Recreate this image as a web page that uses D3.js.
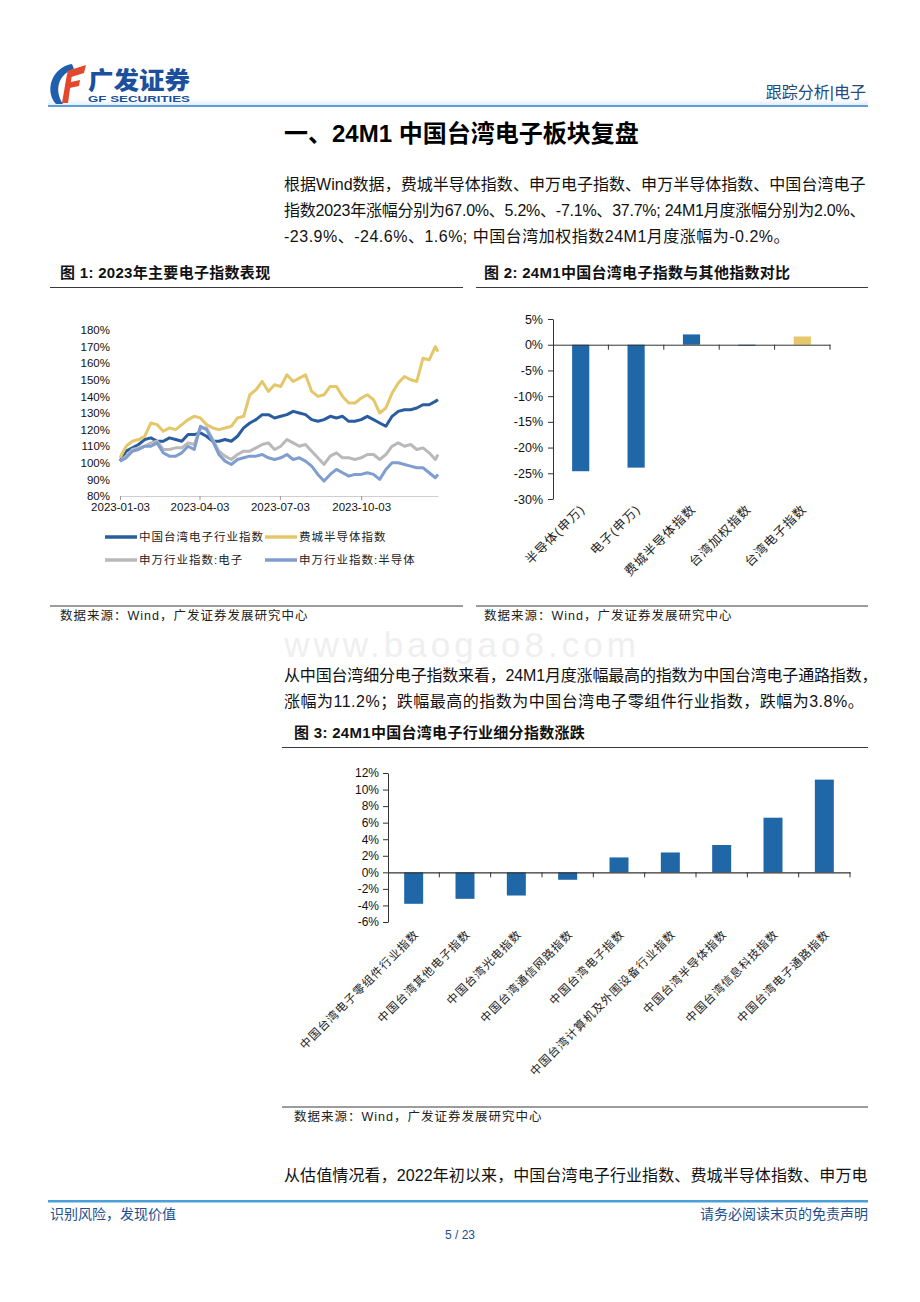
<!DOCTYPE html>
<html><head><meta charset="utf-8">
<script src="https://cdn.jsdelivr.net/npm/d3@7"></script>
<style>body{margin:0;background:#fff}svg{display:block}</style>
</head><body><svg id="c" width="920" height="1302"></svg>
<script>
// ---------- DATA ----------
const lineDates = ["2023-01-03","2023-01-10","2023-01-17","2023-01-24","2023-01-31","2023-02-07","2023-02-14","2023-02-21","2023-02-28","2023-03-07","2023-03-14","2023-03-21","2023-03-28","2023-04-04","2023-04-11","2023-04-18","2023-04-25","2023-05-02","2023-05-09","2023-05-16","2023-05-23","2023-05-30","2023-06-06","2023-06-13","2023-06-20","2023-06-27","2023-07-04","2023-07-11","2023-07-18","2023-07-25","2023-08-01","2023-08-08","2023-08-15","2023-08-22","2023-08-29","2023-09-05","2023-09-12","2023-09-19","2023-09-26","2023-10-03","2023-10-10","2023-10-17","2023-10-24","2023-10-31","2023-11-07","2023-11-14","2023-11-21","2023-11-28","2023-12-05","2023-12-12","2023-12-19","2023-12-26","2023-12-29"];
const twElecIdx = [101,107,109,111,114,115,113,113,115,114,113,117,117,118,116,113,113,114,113,116,121,124,126,129,129,127,128,129,131,130,129,126,125,126,128,127,128,125,125,126,128,126,124,122,128,131,132,132,133,135,135,137,138];
const soxIdx    = [103,110,113,114,116,124,123,119,121,120,123,126,128,127,123,121,120,121,122,127,128,141,144,149,143,147,146,153,149,151,153,143,140,141,146,146,140,136,136,139,141,138,130,133,142,148,152,150,149,163,162,170,167];
const swElecIdx = [101,104,108,109,110,112,113,108,108,109,109,112,111,121,121,114,107,104,102,105,107,107,109,111,112,108,110,114,112,110,111,107,103,99,104,106,103,103,102,103,105,105,102,105,110,112,110,111,108,109,106,102,105];
const swSemiIdx = [101,103,107,108,110,110,112,106,104,104,106,110,108,122,120,113,105,101,99,102,103,104,104,105,103,102,103,105,102,103,101,98,93,89,93,96,94,92,93,93,94,93,90,96,100,100,99,98,97,97,94,91,93];
const lineNames = ["中国台湾电子行业指数","费城半导体指数","申万行业指数:电子","申万行业指数:半导体"];
const lineColors = ["#2a5d9f","#e5c76b","#b9b9b9","#7f9dcf"];
const yTicks1 = [80,90,100,110,120,130,140,150,160,170,180];
const xTicks1 = ["2023-01-03","2023-04-03","2023-07-03","2023-10-03"];

const cmpCats = ["半导体(申万)","电子(申万)","费城半导体指数","台湾加权指数","台湾电子指数"];
const cmpVals = [-24.6,-23.9,2.0,-0.2,1.6];
const cmpColors = ["#1f67a6","#1f67a6","#1f67a6","#1f67a6","#e6c76a"];
const cmpTicks = [-30,-25,-20,-15,-10,-5,0,5];

const subCats = ["中国台湾电子零组件行业指数","中国台湾其他电子指数","中国台湾光电指数","中国台湾通信网路指数","中国台湾电子指数","中国台湾计算机及外围设备行业指数","中国台湾半导体指数","中国台湾信息科技指数","中国台湾电子通路指数"];
const subVals = [-3.8,-3.2,-2.8,-0.9,1.8,2.4,3.3,6.6,11.2];
const subTicks = [-6,-4,-2,0,2,4,6,8,10,12];

// ---------- SETUP ----------
const F = "'Liberation Sans','Noto Sans CJK SC',sans-serif";
const svg = d3.select("#c");
svg.append("rect").attr("width",920).attr("height",1302).attr("fill","#fff");

// watermark
svg.append("text").attr("x",462).attr("y",657).attr("text-anchor","middle")
  .attr("font-family",F).attr("font-size",35).attr("letter-spacing",4).attr("fill","#efefef").text("www.baogao8.com");

// ---------- HEADER ----------
const hg = svg.append("defs").append("linearGradient").attr("id","hg").attr("x1",0).attr("x2",0).attr("y1",0).attr("y2",1);
hg.append("stop").attr("offset","0").attr("stop-color","#ffffff");
hg.append("stop").attr("offset","1").attr("stop-color","#e3eef9");
svg.append("rect").attr("x",48).attr("y",99).attr("width",820).attr("height",6).attr("fill","url(#hg)");
svg.append("rect").attr("x",48).attr("y",105).attr("width",820).attr("height",2).attr("fill","#5f9fd6");
const logo = svg.append("g");
logo.append("path").attr("d","M72 64 C52 67 44 91 56 104 L63 104 C54 91 58 74 74 69 Z").attr("fill","#1f5fae");
logo.append("path").attr("d","M67 71 L86 65 L84 73 L68 78 Z").attr("fill","#e4482c");
logo.append("path").attr("d","M67 74 L72 74 L68 103 L62 103 Z").attr("fill","#e4482c");
logo.append("path").attr("d","M66 83 L80 80 L79 86 L65 89 Z").attr("fill","#e4482c");
svg.append("text").attr("x",88).attr("y",89).attr("font-family",F).attr("font-weight","900")
  .attr("font-size",24).attr("fill","#1c4f9c").attr("textLength",102).attr("lengthAdjust","spacingAndGlyphs").text("广发证券");
svg.append("text").attr("x",88).attr("y",101.5).attr("font-family",F).attr("font-weight","bold")
  .attr("font-size",9.5).attr("fill","#1c4f9c").attr("textLength",102).attr("lengthAdjust","spacingAndGlyphs").text("GF SECURITIES");
svg.append("text").attr("x",866).attr("y",98).attr("text-anchor","end").attr("font-family",F)
  .attr("font-size",16).attr("fill","#24497e").text("跟踪分析|电子");

// ---------- TITLE & TEXT ----------
svg.append("text").attr("x",284).attr("y",142).attr("font-family",F).attr("font-weight","bold")
  .attr("font-size",24).attr("fill","#000").text("一、24M1 中国台湾电子板块复盘");

function para(lines, x, y0, lh, widths){
  lines.forEach((t,i)=>{
    const tx = svg.append("text").attr("x",x).attr("y",y0+i*lh).attr("font-family",F)
      .attr("font-size",16).attr("fill","#111").attr("letter-spacing",0.5).text(t);
    if(widths[i]) tx.attr("textLength",widths[i]).attr("lengthAdjust","spacing");
  });
}
para(["根据Wind数据，费城半导体指数、申万电子指数、申万半导体指数、中国台湾电子",
      "指数2023年涨幅分别为67.0%、5.2%、-7.1%、37.7%; 24M1月度涨幅分别为2.0%、",
      "-23.9%、-24.6%、1.6%;  中国台湾加权指数24M1月度涨幅为-0.2%。"], 284, 190, 26, [582,582,0]);
para(["从中国台湾细分电子指数来看，24M1月度涨幅最高的指数为中国台湾电子通路指数，",
      "涨幅为11.2%；跌幅最高的指数为中国台湾电子零组件行业指数，跌幅为3.8%。"], 284, 681, 25.5, [594,0]);
para(["从估值情况看，2022年初以来，中国台湾电子行业指数、费城半导体指数、申万电"], 284, 1181, 26, [584]);

// figure titles & source lines
function figTitle(x, y, text, lx1, lx2){
  svg.append("text").attr("x",x).attr("y",y).attr("font-family",F).attr("font-weight","bold")
    .attr("font-size",15).attr("letter-spacing",0.3).attr("fill","#111").text(text);
  svg.append("line").attr("x1",lx1).attr("x2",lx2).attr("y1",y+9.5).attr("y2",y+9.5).attr("stroke","#3a3a3a").attr("stroke-width",1.2);
}
function source(x, y, lx1, lx2){
  svg.append("line").attr("x1",lx1).attr("x2",lx2).attr("y1",y-14).attr("y2",y-14).attr("stroke","#3a3a3a").attr("stroke-width",1.2);
  svg.append("text").attr("x",x).attr("y",y).attr("font-family",F).attr("font-size",12.5)
    .attr("letter-spacing",1).attr("fill","#222").text("数据来源：Wind，广发证券发展研究中心");
}
figTitle(60, 278, "图 1:  2023年主要电子指数表现", 50, 463);
figTitle(484, 278, "图 2:  24M1中国台湾电子指数与其他指数对比", 476, 868);
figTitle(294, 738, "图 3:  24M1中国台湾电子行业细分指数涨跌", 282, 868);
source(60, 620, 50, 463);
source(484, 620, 476, 868);
source(294, 1121, 282, 868);

// ---------- CHART 1 ----------
const parse = d3.timeParse("%Y-%m-%d");
const x1 = d3.scaleTime().domain([parse("2023-01-03"), parse("2023-12-29")]).range([120, 438]);
const y1 = d3.scaleLinear().domain([80,180]).range([496, 330]);
const g1 = svg.append("g");
const ya1 = g1.append("g").attr("transform","translate(120,0)")
  .call(d3.axisLeft(y1).tickValues(yTicks1).tickFormat(d=>d+"%").tickSize(0).tickPadding(10));
ya1.select(".domain").remove();
ya1.selectAll("text").attr("font-family",F).attr("font-size",11.5).attr("fill","#111");
const xa1 = g1.append("g").attr("transform","translate(0,496)")
  .call(d3.axisBottom(x1).tickValues(xTicks1.map(parse)).tickFormat(d3.timeFormat("%Y-%m-%d")).tickSize(4).tickSizeOuter(0).tickPadding(3));
xa1.select(".domain").attr("stroke","#cfcfcf");
xa1.selectAll("line").attr("stroke","#999");
xa1.selectAll("text").attr("font-family",F).attr("font-size",11.5).attr("fill","#111");
const series = [twElecIdx, soxIdx, swElecIdx, swSemiIdx];
const ln = d3.line().x((d,i)=>x1(parse(lineDates[i]))).y(d=>y1(d)).curve(d3.curveLinear);
series.forEach((s,k)=>{
  g1.append("path").attr("d",ln(s)).attr("fill","none").attr("stroke",lineColors[k])
    .attr("stroke-width",3).attr("stroke-linejoin","round");
});
// legend
const legPos = [[105,537],[265,537],[105,560],[265,560]];
lineNames.forEach((n,k)=>{
  const [lx,ly] = legPos[k];
  g1.append("line").attr("x1",lx).attr("x2",lx+32).attr("y1",ly).attr("y2",ly)
    .attr("stroke",lineColors[k]).attr("stroke-width",3.5);
  g1.append("text").attr("x",lx+34).attr("y",ly+4).attr("font-family",F).attr("font-size",11.5)
    .attr("letter-spacing",1).attr("fill","#222").text(n);
});

// ---------- CHART 2 ----------
const x2 = d3.scaleBand().domain(cmpCats).range([553, 830]).paddingInner(0.69).paddingOuter(0.345);
const y2 = d3.scaleLinear().domain([-30,5]).range([499, 319]);
const g2 = svg.append("g");
g2.selectAll("rect").data(cmpVals).join("rect")
  .attr("x",(d,i)=>x2(cmpCats[i])).attr("width",x2.bandwidth())
  .attr("y",d=>y2(Math.max(0,d))).attr("height",d=>Math.max(1,Math.abs(y2(d)-y2(0))))
  .attr("fill",(d,i)=>cmpColors[i]);
const ya2 = g2.append("g").attr("transform","translate(553,0)")
  .call(d3.axisLeft(y2).tickValues(cmpTicks).tickFormat(d=>d+"%").tickSize(5).tickSizeOuter(0).tickPadding(5));
ya2.selectAll("line,path").attr("stroke","#333");
ya2.selectAll("text").attr("font-family",F).attr("font-size",12.5).attr("fill","#111");
const xa2 = g2.append("g").attr("transform",`translate(0,${y2(0)})`)
  .call(d3.axisBottom(x2).tickSize(0).tickSizeOuter(0).tickFormat(""));
xa2.select(".domain").attr("stroke","#333");
d3.range(1, cmpCats.length+1).forEach(i=>{
  const tx = x2.range()[0] + i*x2.step();
  g2.append("line").attr("x1",tx).attr("x2",tx).attr("y1",y2(0)).attr("y2",y2(0)+5).attr("stroke","#333");
});
cmpCats.forEach(c=>{
  const cx = x2(c)+x2.bandwidth()/2 + 5;
  g2.append("text").attr("transform",`translate(${cx},510) rotate(-45)`).attr("text-anchor","end")
    .attr("font-family",F).attr("font-size",12.5).attr("letter-spacing",1).attr("fill","#222").text(c);
});

// ---------- CHART 3 ----------
const x3 = d3.scaleBand().domain(subCats).range([388, 850]).paddingInner(0.63).paddingOuter(0.315);
const y3 = d3.scaleLinear().domain([-6,12]).range([922, 773]);
const g3 = svg.append("g");
g3.selectAll("rect").data(subVals).join("rect")
  .attr("x",(d,i)=>x3(subCats[i])).attr("width",x3.bandwidth())
  .attr("y",d=>y3(Math.max(0,d))).attr("height",d=>Math.abs(y3(d)-y3(0)))
  .attr("fill","#1f67a6");
const ya3 = g3.append("g").attr("transform","translate(388,0)")
  .call(d3.axisLeft(y3).tickValues(subTicks).tickFormat(d=>d+"%").tickSize(5).tickSizeOuter(0).tickPadding(4));
ya3.selectAll("line,path").attr("stroke","#333");
ya3.selectAll("text").attr("font-family",F).attr("font-size",12).attr("fill","#111");
const xa3 = g3.append("g").attr("transform",`translate(0,${y3(0)})`)
  .call(d3.axisBottom(x3).tickSize(0).tickSizeOuter(0).tickFormat(""));
xa3.select(".domain").attr("stroke","#333").attr("stroke-width",1.3);
d3.range(1, subCats.length+1).forEach(i=>{
  const tx = x3.range()[0] + i*x3.step();
  g3.append("line").attr("x1",tx).attr("x2",tx).attr("y1",y3(0)).attr("y2",y3(0)+5).attr("stroke","#333");
});
subCats.forEach(c=>{
  const cx = x3(c)+x3.bandwidth()/2 + 6;
  g3.append("text").attr("transform",`translate(${cx},935) rotate(-45)`).attr("text-anchor","end")
    .attr("font-family",F).attr("font-size",11.5).attr("letter-spacing",1).attr("fill","#222").text(c);
});

// ---------- FOOTER ----------
svg.append("rect").attr("x",48).attr("y",1200).attr("width",820).attr("height",2.5).attr("fill","#4aa0d8");
svg.append("text").attr("x",50).attr("y",1219).attr("font-family",F).attr("font-size",14).attr("fill","#1d4e8f").text("识别风险，发现价值");
svg.append("text").attr("x",868).attr("y",1219).attr("text-anchor","end").attr("font-family",F).attr("font-size",14).attr("fill","#1d4e8f").text("请务必阅读末页的免责声明");
svg.append("text").attr("x",460).attr("y",1239).attr("text-anchor","middle").attr("font-family",F).attr("font-size",12).attr("fill","#1d4e8f").text("5 / 23");
</script></body></html>
